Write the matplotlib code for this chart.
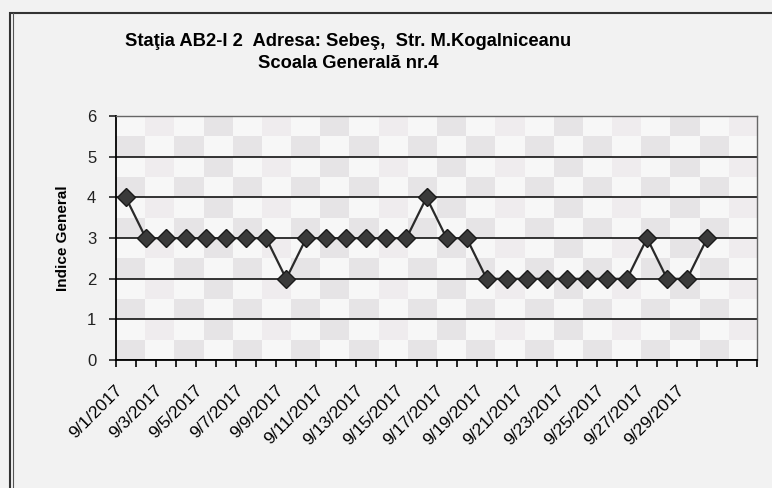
import matplotlib.pyplot as plt
import matplotlib.transforms as mtransforms
import numpy as np
from matplotlib.patches import Rectangle
from matplotlib.colors import ListedColormap

# data: Indice General, September 2017
days = list(range(1, 31))
indice = [4, 3, 3, 3, 3, 3, 3, 3, 2, 3, 3, 3, 3, 3, 3, 4,
          3, 3, 2, 2, 2, 2, 2, 2, 2, 2, 3, 2, 2, 3]
n_categories = 32  # axis runs 9/1 .. 10/2
tick_days = list(range(1, 30, 2))
tick_labels = ['9/%d/2017' % d for d in tick_days]
y_ticks = list(range(0, 7))

title_1 = 'Staţia AB2-I 2  Adresa: Sebeş,  Str. M.Kogalniceanu'
title_2 = 'Scoala Generală nr.4'

plt.rcParams['font.family'] = ['Liberation Sans', 'DejaVu Sans']

fig = plt.figure(figsize=(7.72, 4.88), dpi=100)
fig.patch.set_facecolor('#f2f2f2')
ax = fig.add_axes([0.150, 0.262, 0.831, 0.500])

# checkered fill of the plot area (Excel pattern)
ny, nx = 12, 22
checker = (np.add.outer(np.arange(ny), np.arange(nx)) % 2).astype(float)
checker[::2, 1::4] = 0.5
ax.imshow(checker, cmap=ListedColormap(['#f7f7f7', '#efecee', '#e6e4e6']),
          extent=(-0.5, n_categories - 0.5, 0, 6), aspect='auto',
          interpolation='nearest', zorder=0)

x = np.array(days) - 1
ax.plot(x, indice, color='#2a2a2a', lw=1.6, marker='D', markersize=9,
        markerfacecolor='#3a3a3a', markeredgecolor='#1a1a1a', zorder=3)

ax.set_xlim(-0.5, n_categories - 0.5)
ax.set_ylim(0, 6)

ax.set_yticks(y_ticks)
ax.yaxis.grid(True, color='black', lw=1.1)
ax.set_axisbelow(True)
ax.tick_params(axis='y', direction='out', length=5, width=1.2,
               labelsize=12, colors='#222222', pad=9)

ax.set_xticks([d - 1 for d in tick_days])
ax.set_xticklabels(tick_labels, rotation=45, ha='right', va='top',
                   rotation_mode='anchor', fontsize=12.5)
ax.set_xticks(np.arange(-0.5, n_categories, 1), minor=True)
ax.tick_params(axis='x', which='major', length=0, pad=16)
ax.tick_params(axis='x', which='minor', direction='out', length=5, width=1.2)
shift = mtransforms.ScaledTranslation(-11 / 100, 0, fig.dpi_scale_trans)
for lab in ax.get_xticklabels():
    lab.set_transform(lab.get_transform() + shift)

for side in ['left', 'bottom']:
    ax.spines[side].set_color('black')
    ax.spines[side].set_linewidth(1.3)
for side in ['top', 'right']:
    ax.spines[side].set_color('#666666')
    ax.spines[side].set_linewidth(1.0)

ax.set_ylabel('Indice General', fontsize=11, fontweight='bold', labelpad=12)

fig.text(0.451, 0.914, title_1, ha='center', va='center',
         fontsize=13.2, fontweight='bold')
fig.text(0.451, 0.869, title_2, ha='center', va='center',
         fontsize=13.2, fontweight='bold')

# outer chart border (cropped at right and bottom in the scan)
fig.add_artist(Rectangle((10 / 772, -0.05), 1.0, 1 - 13 / 488 + 0.05,
                         transform=fig.transFigure, fill=False,
                         ec='#333333', lw=1.5))
fig.add_artist(plt.Line2D([13 / 772, 13 / 772], [0, 1 - 13 / 488],
                          transform=fig.transFigure, color='#555555', lw=0.8))

fig.savefig('out.png', dpi=100, facecolor=fig.get_facecolor())
